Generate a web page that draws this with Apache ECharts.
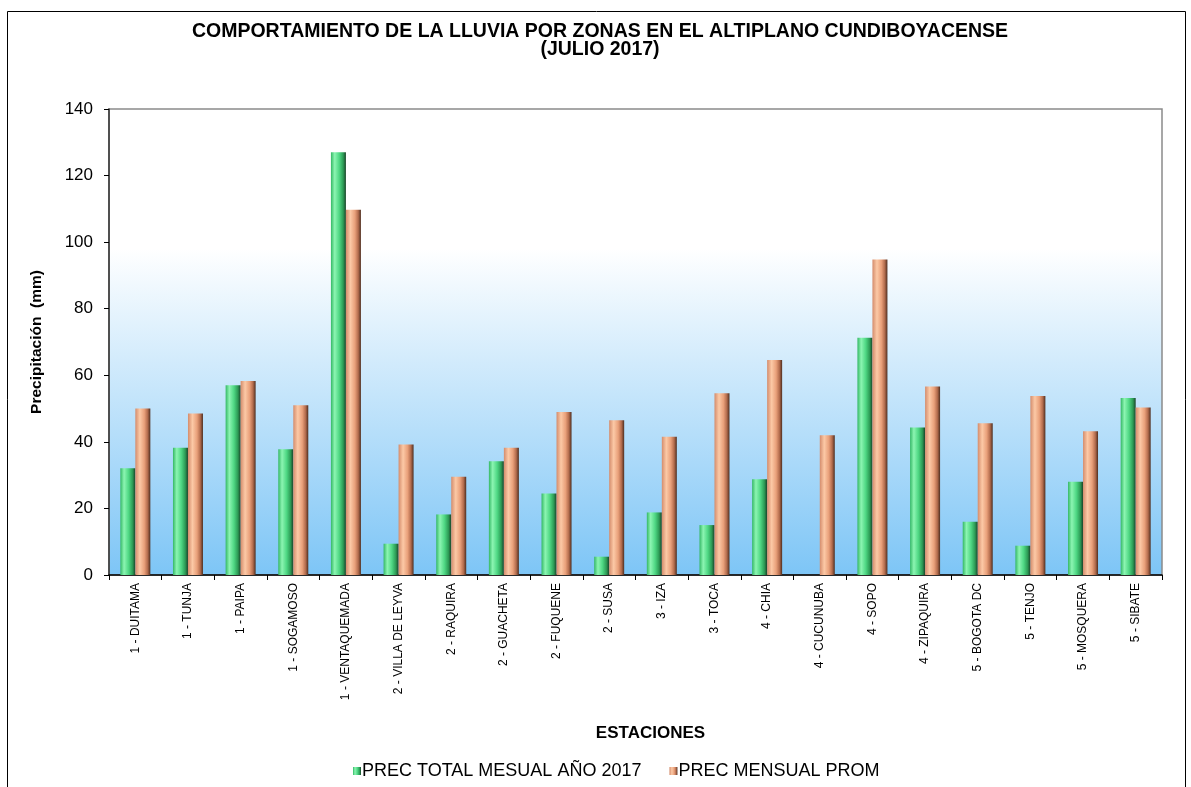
<!DOCTYPE html>
<html>
<head>
<meta charset="utf-8">
<title>Lluvia Altiplano Cundiboyacense - Julio 2017</title>
<script src="https://cdn.jsdelivr.net/npm/echarts@6/dist/echarts.min.js"></script>
<style>
  html, body { margin: 0; padding: 0; background: #fff; }
  #chart { width: 1191px; height: 787px; }
</style>
</head>
<body>
<div id="chart"></div>
<script>
// estaciones (categorias del eje X)
const estaciones = [
  '1 - DUITAMA', '1 - TUNJA', '1 - PAIPA', '1 - SOGAMOSO', '1 - VENTAQUEMADA',
  '2 - VILLA DE LEYVA', '2 - RAQUIRA', '2 - GUACHETA', '2 - FUQUENE', '2 - SUSA',
  '3 - IZA', '3 - TOCA', '4 - CHIA', '4 - CUCUNUBA', '4 - SOPO',
  '4 - ZIPAQUIRA', '5 - BOGOTA DC', '5 - TENJO', '5 - MOSQUERA', '5 - SIBATE'
];

// precipitacion total julio 2017 (mm)
const precTotal2017 = [
  32.1, 38.2, 57.0, 37.8, 127.0,
  9.4, 18.2, 34.2, 24.5, 5.5,
  18.8, 15.0, 28.8, 0, 71.3,
  44.3, 16.0, 8.8, 28.0, 53.2
];

// precipitacion mensual promedio (mm)
const precPromedio = [
  50.0, 48.5, 58.3, 51.0, 109.7,
  39.2, 29.5, 38.2, 49.0, 46.5,
  41.5, 54.6, 64.6, 42.0, 94.8,
  56.6, 45.6, 53.8, 43.2, 50.3
];

const nombresSerie = ['PREC TOTAL MESUAL AÑO 2017', 'PREC MENSUAL PROM'];

const chart = echarts.init(document.getElementById('chart'));

// gradientes horizontales para imitar barras cilindricas
const verde = new echarts.graphic.LinearGradient(0, 0, 1, 0, [
  { offset: 0, color: '#34b865' },
  { offset: 0.25, color: '#8cf5b2' },
  { offset: 0.55, color: '#4fd884' },
  { offset: 0.82, color: '#2c9a55' },
  { offset: 1, color: '#1a4329' }
]);
const naranja = new echarts.graphic.LinearGradient(0, 0, 1, 0, [
  { offset: 0, color: '#d48c6c' },
  { offset: 0.3, color: '#fcc9a6' },
  { offset: 0.6, color: '#e9a07a' },
  { offset: 0.82, color: '#b36c4d' },
  { offset: 1, color: '#4e2e20' }
]);

const option = {
  backgroundColor: '#fff',
  animation: false,
  textStyle: { fontFamily: 'Liberation Sans, Arial, sans-serif' },
  title: {
    text: 'COMPORTAMIENTO DE LA LLUVIA POR ZONAS EN EL ALTIPLANO CUNDIBOYACENSE\n(JULIO 2017)',
    left: 595,
    top: 18,
    textAlign: 'center',
    textStyle: {
      fontSize: 19.5,
      fontWeight: 'bold',
      color: '#000',
      lineHeight: 18
    }
  },
  graphic: [
    {
      type: 'rect',
      shape: { x: 7.5, y: 11.5, width: 1178, height: 790 },
      style: { fill: 'none', stroke: '#000', lineWidth: 1 },
      silent: true
    }
  ],
  legend: {
    data: nombresSerie,
    bottom: 2,
    left: 348,
    itemWidth: 8,
    itemHeight: 8,
    itemGap: 28,
    icon: 'rect',
    textStyle: {
      fontSize: 18,
      color: '#000',
      padding: [0, 0, 0, -4]
    }
  },
  grid: {
    left: 109,
    right: 29,
    top: 109,
    bottom: 212,
    show: true,
    borderColor: '#8a8a8a',
    borderWidth: 1.5,
    backgroundColor: new echarts.graphic.LinearGradient(0, 0, 0, 1, [
      { offset: 0, color: '#ffffff' },
      { offset: 0.3, color: '#ffffff' },
      { offset: 1, color: '#7dc5f6' }
    ])
  },
  xAxis: {
    type: 'category',
    data: estaciones,
    name: 'ESTACIONES',
    nameLocation: 'middle',
    nameGap: 150,
    nameTextStyle: {
      fontSize: 17,
      fontWeight: 'bold',
      color: '#000',
      padding: [0, 0, 0, 30]
    },
    axisLine: { lineStyle: { color: '#000', width: 1.5 } },
    axisTick: { show: true, alignWithLabel: false, length: 5, lineStyle: { color: '#000' } },
    axisLabel: {
      rotate: 90,
      interval: 0,
      margin: 8,
      fontSize: 12,
      color: '#000'
    },
    splitLine: { show: false }
  },
  yAxis: {
    type: 'value',
    min: 0,
    max: 140,
    interval: 20,
    name: 'Precipitación  (mm)',
    nameLocation: 'middle',
    nameGap: 64,
    nameTextStyle: { fontSize: 15.5, fontWeight: 'bold', color: '#000' },
    axisLine: { show: true, lineStyle: { color: '#333', width: 1.5 } },
    axisTick: { show: true, length: 5, lineStyle: { color: '#000' } },
    axisLabel: { fontSize: 17, color: '#000', margin: 16 },
    splitLine: { show: false }
  },
  series: [
    {
      name: nombresSerie[0],
      type: 'bar',
      data: precTotal2017,
      barWidth: 15,
      barGap: '0%',
      itemStyle: { color: verde }
    },
    {
      name: nombresSerie[1],
      type: 'bar',
      data: precPromedio,
      barWidth: 15,
      itemStyle: { color: naranja }
    }
  ]
};

chart.setOption(option);
</script>
</body>
</html>
